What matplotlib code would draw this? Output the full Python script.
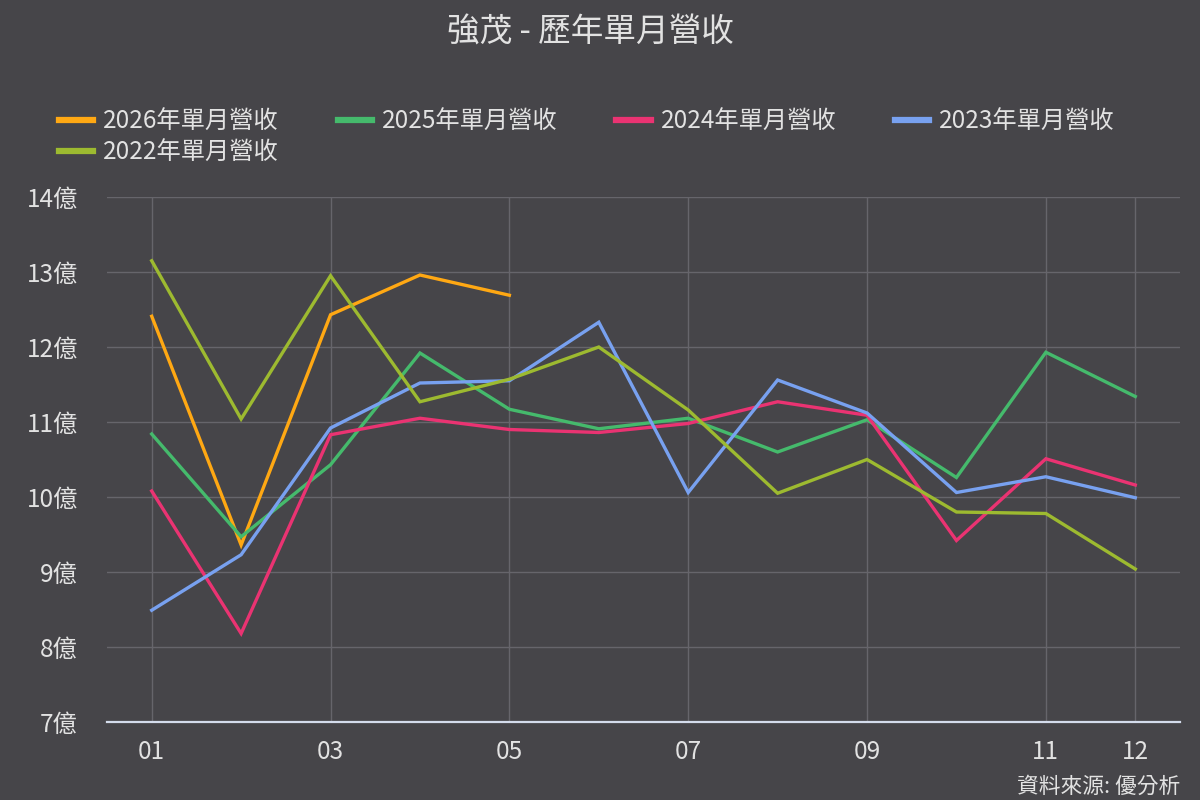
import matplotlib
matplotlib.use("Agg")
import matplotlib.pyplot as plt

plt.rcParams['font.family'] = ['Noto Sans CJK TC', 'DejaVu Sans']

months = list(range(1, 13))
tick_months = [1, 3, 5, 7, 9, 11, 12]
tick_labels = ["01", "03", "05", "07", "09", "11", "12"]
y_ticks = [7, 8, 9, 10, 11, 12, 13, 14]
y_labels = ["7億", "8億", "9億", "10億", "11億", "12億", "13億", "14億"]

rev_2026 = [12.41, 9.36, 12.43, 12.96, 12.69]
rev_2025 = [10.84, 9.47, 10.43, 11.92, 11.17, 10.91, 11.05, 10.60, 11.03, 10.26, 11.93, 11.34]
rev_2024 = [10.08, 8.18, 10.83, 11.05, 10.90, 10.86, 10.98, 11.27, 11.09, 9.42, 10.51, 10.16]
rev_2023 = [8.49, 9.23, 10.92, 11.52, 11.55, 12.33, 10.06, 11.56, 11.12, 10.06, 10.27, 9.99]
rev_2022 = [13.15, 11.04, 12.95, 11.27, 11.57, 12.00, 11.16, 10.05, 10.50, 9.80, 9.78, 9.04]

series = [
    ("2026年單月營收", rev_2026, "#FFA813"),
    ("2025年單月營收", rev_2025, "#45BA6C"),
    ("2024年單月營收", rev_2024, "#EA3372"),
    ("2023年單月營收", rev_2023, "#78A1F0"),
    ("2022年單月營收", rev_2022, "#9DBA30"),
]

bg = "#464549"
text_c = "#E2E2E2"

fig = plt.figure(figsize=(12, 8), dpi=100, facecolor=bg)
ax = fig.add_axes([107/1200, 1-722/800, (1180-107)/1200, (722-197)/800])
ax.set_facecolor(bg)

lines = {}
for name, vals, col in series:
    ln, = ax.plot(months[:len(vals)], vals, color=col, lw=2.4, label=name,
                  solid_joinstyle='miter')
    lines[name] = ln

ax.set_xlim(0.5, 12.5)
ax.set_ylim(7, 14)
ax.set_xticks(tick_months)
ax.set_xticklabels(tick_labels)
ax.set_yticks(y_ticks)
ax.set_yticklabels(y_labels)
ax.grid(True, color="#66656B", lw=1.0)
ax.set_axisbelow(True)
for s in ["top", "right", "left"]:
    ax.spines[s].set_visible(False)
ax.spines["bottom"].set_color("#D4DCEC")
ax.spines["bottom"].set_linewidth(1.6)
ax.tick_params(axis='both', length=0, colors=text_c, labelsize=17.5)
ax.tick_params(axis='x', pad=12)
ax.tick_params(axis='y', pad=21)

fig.text(590/1200, 1-33/800, "強茂 - 歷年單月營收", ha='center', va='center',
         color=text_c, fontsize=23.5)

# legend ordered so that rows read left-to-right
order = ["2026年單月營收", "2022年單月營收", "2025年單月營收",
         "2024年單月營收", "2023年單月營收"]
handles = [lines[n] for n in order]
leg = fig.legend(handles, order, loc='upper left',
                 bbox_to_anchor=(59/1200, 1-109/800), ncol=4,
                 frameon=False, fontsize=17.5, labelcolor=text_c,
                 handlelength=1.4, handletextpad=0.42, columnspacing=2.42,
                 labelspacing=0.2, borderpad=0, borderaxespad=0)
for h in leg.get_lines():
    h.set_linewidth(4.5)

fig.text(1180/1200, 1-787/800, "資料來源: 優分析", ha='right', va='center',
         color=text_c, fontsize=15.7)

fig.savefig("out.png", dpi=100, facecolor=bg)
